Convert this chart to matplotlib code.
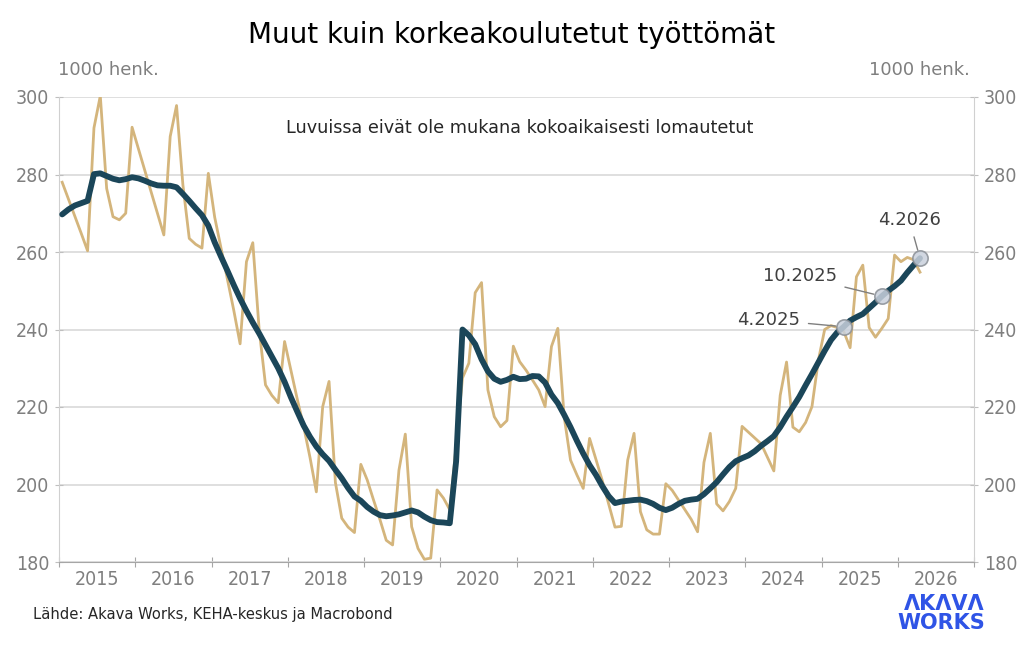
import numpy as np
import matplotlib
matplotlib.use("Agg")
import matplotlib.pyplot as plt
from matplotlib import font_manager

# monthly values, Jan 2015 - Apr 2026 (1000 persons)
raw_2015 = [278, 273.6, 269.2, 264.8, 260.3, 292, 300.3, 276.4, 269.1, 268.3, 270, 292.2]
raw_2016 = [286.6, 281, 275.5, 270, 264.4, 289.8, 297.8, 277.3, 263.5, 262, 261, 280.3]
raw_2017 = [269, 261, 253, 245, 236.3, 257.5, 262.4, 240, 225.7, 223, 221.1, 236.9]
raw_2018 = [229.5, 222, 215, 207, 198.1, 220.1, 226.6, 200.5, 191.3, 189, 187.6, 205.2]
raw_2019 = [201.2, 196, 191, 185.6, 184.4, 203.7, 213, 189.1, 183.5, 180.7, 181, 198.6]
raw_2020 = [196.5, 193.5, 210, 227.5, 231.3, 249.5, 252.1, 224.4, 217.5, 214.9, 216.5, 235.7]
raw_2021 = [231.7, 229.5, 227, 224.4, 220.1, 235.6, 240.3, 217.5, 206.3, 202.5, 199, 211.9]
raw_2022 = [206.5, 201, 195, 189, 189.2, 206.3, 213.2, 193, 188.3, 187.2, 187.2, 200.2]
raw_2023 = [198.5, 196, 193.5, 191, 187.8, 205.7, 213.2, 195, 193.2, 195.6, 199, 215]
raw_2024 = [213.5, 212, 210.5, 207, 203.5, 223, 231.6, 214.8, 213.6, 216, 220.1, 232]
raw_2025 = [240, 241, 240.5, 239.5, 235.3, 253.6, 256.6, 240.5, 238, 240.3, 242.8, 259.2]
raw_2026 = [257.5, 258.6, 258, 254.8]

trend_2015 = [269.7, 271, 272, 272.6, 273.2, 280.1, 280.3, 279.6, 278.9, 278.5, 278.8, 279.3]
trend_2016 = [279, 278.4, 277.7, 277.2, 277.1, 277.1, 276.7, 275, 273.2, 271.3, 269.5, 266.8]
trend_2017 = [262.5, 258.8, 255.2, 251.5, 248, 244.8, 241.8, 239, 236, 233, 230, 226.5]
trend_2018 = [222.5, 218.8, 215.2, 212.3, 209.8, 207.8, 206.1, 203.8, 201.6, 199.1, 196.9, 195.8]
trend_2019 = [194.2, 193, 192.1, 191.8, 192, 192.3, 192.8, 193.3, 192.8, 191.7, 190.8, 190.3]
trend_2020 = [190.2, 190, 206, 240, 238.5, 236.2, 232.3, 229.2, 227.3, 226.5, 227, 227.8]
trend_2021 = [227.2, 227.3, 228, 227.9, 226.3, 223.2, 221, 218, 214.8, 211.3, 208, 205]
trend_2022 = [202.5, 199.6, 197, 195.2, 195.6, 195.8, 196, 196.1, 195.7, 195, 194, 193.4]
trend_2023 = [194, 195, 195.8, 196.1, 196.3, 197.5, 199, 200.6, 202.6, 204.5, 206, 206.8]
trend_2024 = [207.5, 208.6, 210, 211.2, 212.5, 214.8, 217.5, 220, 222.6, 225.6, 228.5, 231.5]
trend_2025 = [234.5, 237.3, 239.3, 240.7, 242.3, 243.2, 244, 245.5, 247, 248.6, 250, 251.2]
trend_2026 = [252.6, 254.7, 256.6, 258.4]

raw = (raw_2015 + raw_2016 + raw_2017 + raw_2018 + raw_2019 + raw_2020 + raw_2021
       + raw_2022 + raw_2023 + raw_2024 + raw_2025 + raw_2026)
trend = (trend_2015 + trend_2016 + trend_2017 + trend_2018 + trend_2019 + trend_2020
         + trend_2021 + trend_2022 + trend_2023 + trend_2024 + trend_2025 + trend_2026)

years = list(range(2015, 2027))
marked = ["4.2025", "10.2025", "4.2026"]

n = len(raw)
x = 2015 + (np.arange(n) + 0.5) / 12.0


def month_x(label):
    mo, yr = label.split(".")
    return 2015 + ((int(yr) - 2015) * 12 + int(mo) - 1 + 0.5) / 12.0


def month_idx(label):
    mo, yr = label.split(".")
    return (int(yr) - 2015) * 12 + int(mo) - 1


# pick a narrow font for ticks and source line if one is installed
installed = {f.name for f in font_manager.fontManager.ttflist}
stretch = "normal"
if "Liberation Sans Narrow" in installed:
    narrow = "Liberation Sans Narrow"
elif "DejaVu Sans Condensed" in installed:
    narrow = "DejaVu Sans Condensed"
else:
    narrow = "DejaVu Sans"
    if any(f.name == "DejaVu Sans" and f.stretch == "condensed"
           for f in font_manager.fontManager.ttflist):
        stretch = "condensed"
gray = "#7f7f7f"

fig = plt.figure(figsize=(10.24, 6.46), dpi=100)
ax = fig.add_axes([59 / 1024, 1 - 562 / 646, 915 / 1024, 465 / 646])

ax.plot(x, raw, color="#d4b57c", lw=2.0, zorder=2)
ax.plot(x, trend, color="#1b4659", lw=4.2, zorder=3, solid_capstyle="round")

ax.set_xlim(2015, 2027)
ax.set_ylim(180, 300)
ax.set_yticks(range(180, 301, 20))
ax.set_xticks(years + [2027])
ax.set_xticklabels([])
ax.set_xticks([y + 0.5 for y in years], minor=True)
ax.set_xticklabels([str(y) for y in years], minor=True)
ax.tick_params(axis="x", which="minor", length=0, pad=6, labelsize=14,
               labelcolor=gray)
ax.tick_params(axis="x", which="major", direction="inout", length=7,
               color="#a6a6a6")
ax.tick_params(axis="y", direction="inout", length=6, color="#bfbfbf",
               labelsize=14, labelcolor=gray, right=True, labelright=True, pad=4)
for lab in ax.get_xticklabels(minor=True) + ax.get_yticklabels():
    lab.set_family(narrow)
    lab.set_stretch(stretch)
if narrow == "DejaVu Sans" and stretch == "normal":
    for lab in ax.get_xticklabels(minor=True) + ax.get_yticklabels():
        lab.set_fontsize(12.5)

ax.grid(axis="y", color="#d9d9d9", lw=1.2, zorder=0)
ax.spines["top"].set_visible(False)
ax.spines["bottom"].set_color("#a6a6a6")
ax.spines["left"].set_color("#d0d0d0")
ax.spines["right"].set_color("#d0d0d0")

# highlighted points on the trend line
text_pos = {"4.2025": (2024.72, 242.5, "right", "center"),
            "10.2025": (2025.2, 253.8, "right", "center"),
            "4.2026": (2026.15, 266, "center", "bottom")}
for lab in marked:
    px, py = month_x(lab), trend[month_idx(lab)]
    ax.plot(px, py, "o", ms=11, mfc="#c9d1dc", mec="#8a8f96", mew=1.2,
            alpha=0.85, zorder=4)
    tx, ty, ha, va = text_pos[lab]
    ax.annotate(lab, xy=(px, py), xytext=(tx, ty), ha=ha, va=va,
                fontsize=13, color="#404040",
                arrowprops=dict(arrowstyle="-", color="#7f7f7f", lw=1,
                                shrinkA=4, shrinkB=6))

ax.text(0.504, 0.933, "Luvuissa eivät ole mukana kokoaikaisesti lomautetut",
        transform=ax.transAxes, ha="center", va="center", fontsize=12.7,
        color="#262626")

fig.text(0.5, 0.946, "Muut kuin korkeakoulutetut työttömät", ha="center",
         va="center", fontsize=20, color="black")
fig.text(58 / 1024, 1 - 70 / 646, "1000 henk.", ha="left", va="center",
         fontsize=13, color=gray)
fig.text(970 / 1024, 1 - 70 / 646, "1000 henk.", ha="right", va="center",
         fontsize=13, color=gray)
src_size = 11.8 if narrow != "DejaVu Sans" or stretch != "normal" else 10.8
fig.text(33 / 1024, 1 - 615 / 646, "Lähde: Akava Works, KEHA-keskus ja Macrobond",
         ha="left", va="center", fontsize=src_size, family=narrow,
         stretch=stretch, color="#262626")
fig.text(985 / 1024, 1 - 604 / 646, "ΛKΛVΛ", ha="right", va="center",
         fontsize=15, fontweight="bold", color="#2f54e6")
fig.text(985 / 1024, 1 - 623 / 646, "WORKS", ha="right", va="center",
         fontsize=15, fontweight="bold", color="#2f54e6")

fig.savefig("out.png", dpi=100, facecolor="white")
